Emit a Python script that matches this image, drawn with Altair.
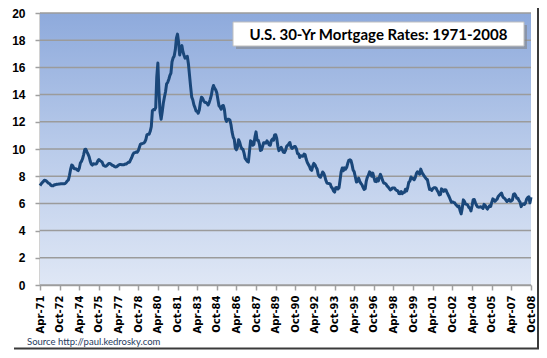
import altair as alt
import pandas as pd

# Monthly 30-yr mortgage rates (%)
r1971 = [7.31, 7.43, 7.53, 7.60, 7.70, 7.69, 7.63, 7.55, 7.48]  # Apr-Dec
r1972 = [7.44, 7.32, 7.29, 7.29, 7.37, 7.37, 7.40, 7.40, 7.42, 7.43, 7.44, 7.44]
r1973 = [7.44, 7.44, 7.46, 7.54, 7.65, 7.73, 8.05, 8.50, 8.82, 8.77, 8.58, 8.54]
r1974 = [8.54, 8.46, 8.41, 8.58, 8.97, 9.09, 9.28, 9.59, 9.96, 9.98, 9.79, 9.62]
r1975 = [9.43, 9.10, 8.89, 8.82, 8.91, 8.89, 8.89, 8.94, 9.13, 9.22, 9.14, 9.10]
r1976 = [9.02, 8.81, 8.76, 8.73, 8.76, 8.85, 8.93, 8.94, 8.88, 8.81, 8.79, 8.72]
r1977 = [8.68, 8.69, 8.75, 8.82, 8.86, 8.86, 8.85, 8.85, 8.85, 8.89, 8.90, 8.96]
r1978 = [9.02, 9.03, 9.20, 9.36, 9.57, 9.71, 9.74, 9.78, 9.76, 9.86, 10.11, 10.35]
r1979 = [10.39, 10.41, 10.43, 10.50, 10.69, 11.04, 11.09, 11.09, 11.30, 11.64, 12.83, 12.90]
r1980 = [12.88, 13.04, 15.28, 16.32, 14.26, 12.71, 12.19, 12.74, 13.38, 13.81, 14.21, 14.79]
r1981 = [14.90, 15.13, 15.40, 15.58, 16.40, 16.70, 16.83, 17.29, 18.16, 18.45, 17.83, 16.92]
r1982 = [17.40, 17.60, 17.16, 16.89, 16.68, 16.70, 16.82, 16.27, 15.43, 14.61, 13.83, 13.62]
r1983 = [13.25, 13.04, 12.80, 12.78, 12.63, 12.87, 13.42, 13.81, 13.73, 13.54, 13.44, 13.42]
r1984 = [13.37, 13.23, 13.39, 13.65, 13.94, 14.42, 14.67, 14.47, 14.35, 14.13, 13.64, 13.18]
r1985 = [13.08, 12.92, 13.17, 13.20, 12.91, 12.22, 12.03, 12.19, 12.19, 12.14, 11.78, 11.26]
r1986 = [10.88, 10.71, 10.08, 9.94, 10.14, 10.68, 10.51, 10.20, 10.01, 9.98, 9.70, 9.31]
r1987 = [9.20, 9.08, 9.04, 9.83, 10.60, 10.54, 10.28, 10.33, 10.89, 11.26, 10.65, 10.65]
r1988 = [10.38, 9.89, 9.93, 10.20, 10.46, 10.46, 10.43, 10.60, 10.48, 10.30, 10.27, 10.61]
r1989 = [10.73, 10.65, 11.03, 11.05, 10.77, 10.20, 9.88, 9.99, 10.13, 9.95, 9.77, 9.74]
r1990 = [9.90, 10.20, 10.27, 10.37, 10.48, 10.16, 10.04, 10.10, 10.18, 10.18, 10.01, 9.67]
r1991 = [9.64, 9.37, 9.50, 9.49, 9.47, 9.62, 9.58, 9.24, 9.01, 8.86, 8.71, 8.50]
r1992 = [8.43, 8.76, 8.94, 8.85, 8.67, 8.51, 8.13, 7.98, 7.92, 8.09, 8.31, 8.22]
r1993 = [7.99, 7.68, 7.50, 7.47, 7.47, 7.42, 7.21, 7.11, 6.92, 6.83, 7.16, 7.17]
r1994 = [7.06, 7.15, 7.68, 8.32, 8.60, 8.40, 8.61, 8.51, 8.64, 8.93, 9.17, 9.20]
r1995 = [9.15, 8.83, 8.46, 8.32, 7.96, 7.57, 7.61, 7.86, 7.64, 7.48, 7.38, 7.20]
r1996 = [7.03, 7.08, 7.62, 7.93, 8.07, 8.32, 8.25, 8.00, 8.23, 7.92, 7.62, 7.60]
r1997 = [7.82, 7.65, 7.90, 8.14, 7.94, 7.69, 7.50, 7.48, 7.43, 7.29, 7.21, 7.10]
r1998 = [6.99, 7.04, 7.13, 7.14, 7.14, 7.00, 6.95, 6.92, 6.72, 6.71, 6.87, 6.72]
r1999 = [6.79, 6.81, 7.04, 6.92, 7.15, 7.55, 7.63, 7.94, 7.82, 7.85, 7.74, 7.91]
r2000 = [8.21, 8.33, 8.24, 8.15, 8.52, 8.29, 8.15, 8.03, 7.91, 7.80, 7.75, 7.38]
r2001 = [7.03, 7.05, 6.95, 7.08, 7.15, 7.16, 7.13, 6.95, 6.82, 6.62, 6.66, 7.07]
r2002 = [7.00, 6.89, 7.01, 6.99, 6.81, 6.65, 6.49, 6.29, 6.09, 6.11, 6.07, 6.05]
r2003 = [5.92, 5.84, 5.75, 5.81, 5.48, 5.23, 5.63, 6.26, 6.15, 5.95, 5.93, 5.88]
r2004 = [5.71, 5.64, 5.45, 5.83, 6.27, 6.29, 6.06, 5.87, 5.75, 5.72, 5.73, 5.75]
r2005 = [5.71, 5.63, 5.93, 5.86, 5.72, 5.58, 5.70, 5.82, 5.77, 6.07, 6.33, 6.27]
r2006 = [6.15, 6.25, 6.32, 6.51, 6.60, 6.68, 6.76, 6.52, 6.40, 6.36, 6.24, 6.14]
r2007 = [6.22, 6.29, 6.16, 6.18, 6.26, 6.66, 6.70, 6.57, 6.38, 6.38, 6.21, 6.10]
r2008 = [5.76, 5.92, 5.97, 5.92, 6.04, 6.32, 6.43, 6.48, 6.04, 6.45]  # Jan-Oct

series = [r1971, r1972, r1973, r1974, r1975, r1976, r1977, r1978, r1979, r1980,
          r1981, r1982, r1983, r1984, r1985, r1986, r1987, r1988, r1989, r1990,
          r1991, r1992, r1993, r1994, r1995, r1996, r1997, r1998, r1999, r2000,
          r2001, r2002, r2003, r2004, r2005, r2006, r2007, r2008]

x_tick_labels = ["Apr-71", "Oct-72", "Apr-74", "Oct-75", "Apr-77", "Oct-78", "Apr-80",
                 "Oct-81", "Apr-83", "Oct-84", "Apr-86", "Oct-87", "Apr-89", "Oct-90",
                 "Apr-92", "Oct-93", "Apr-95", "Oct-96", "Apr-98", "Oct-99", "Apr-01",
                 "Oct-02", "Apr-04", "Oct-05", "Apr-07", "Oct-08"]
y_ticks = [0, 2, 4, 6, 8, 10, 12, 14, 16, 18, 20]

title_text = "U.S. 30-Yr Mortgage Rates: 1971-2008"
source_text = "Source http://paul.kedrosky.com"

dates, vals = [], []
for i, arr in enumerate(series):
    year = 1971 + i
    start = 4 if year == 1971 else 1
    for j, v in enumerate(arr):
        dates.append(f"{year}-{start + j:02d}-01")
        vals.append(v)
df = pd.DataFrame({"date": dates, "rate": vals})

tick_dt = [pd.to_datetime(t, format="%b-%y") for t in x_tick_labels]
tick_values = [alt.DateTime(year=d.year, month=d.month, date=1, utc=True) for d in tick_dt]

W, H = 491, 272
one = alt.Data(values=[{}])

x_scale = alt.Scale(type="utc",
                    domain=[tick_values[0], tick_values[-1]])
y_scale = alt.Scale(domain=[0, 20], nice=False)

y_axis = alt.Axis(values=y_ticks, grid=False, title=None,
                  labelFont="Liberation Sans", labelFontWeight="bold",
                  labelFontSize=12, labelColor="#000000", labelPadding=10,
                  tickSize=5, tickColor="#a0a0a0", tickWidth=1.5,
                  domainColor="#a6a6a6", domainWidth=2)

grad = alt.LinearGradient(
    gradient="linear",
    stops=[alt.GradientStop(color="#8eaadc", offset=0),
           alt.GradientStop(color="#b9cbea", offset=0.5),
           alt.GradientStop(color="#dfe7f5", offset=1)],
    x1=0, x2=0, y1=0, y2=1)

bg = alt.Chart(one).mark_rect(color=grad).encode(
    x=alt.value(0), x2=alt.value(W), y=alt.value(0), y2=alt.value(H))

grid = alt.Chart(pd.DataFrame({"v": y_ticks})).mark_rule(
    color="#9b9b9b", strokeWidth=1.5).encode(
    y=alt.Y("v:Q", scale=y_scale, axis=y_axis))

line = alt.Chart(df).mark_line(color="#1a477a", strokeWidth=3, strokeJoin="round").encode(
    x=alt.X("date:T", scale=x_scale,
            axis=alt.Axis(values=tick_values, labelExpr="utcFormat(datum.value, '%b-%y')",
                          labelAngle=-90, labelFont="DejaVu Sans", labelFontWeight="bold",
                          labelFontSize=10, labelColor="#000000", labelPadding=5,
                          tickSize=5, tickColor="#a0a0a0", tickWidth=1.5,
                          domainColor="#a0a0a0", domainWidth=1.5, grid=False,
                          title=None, labelOverlap=False, labelBound=False,
                          labelFlush=False)),
    y=alt.Y("rate:Q", scale=y_scale, axis=y_axis))

shadow = alt.Chart(one).mark_rect(color="#7f7f7f", opacity=0.55).encode(
    x=alt.value(196), x2=alt.value(487), y=alt.value(12), y2=alt.value(36))
box = alt.Chart(one).mark_rect(color="#ffffff", stroke="#bfbfbf", strokeWidth=1).encode(
    x=alt.value(193), x2=alt.value(484), y=alt.value(9), y2=alt.value(33))
title = alt.Chart(one).mark_text(text=title_text, font="Lato", fontSize=15,
                                 fontWeight="bold", color="#000000",
                                 align="center", baseline="middle").encode(
    x=alt.value(338.5), y=alt.value(21.5))

source = alt.Chart(one).mark_text(text=source_text, font="Lato", fontSize=9.5,
                                  color="#1f3b60", align="left", baseline="alphabetic").encode(
    x=alt.value(-13), y=alt.value(332))

frame_b = alt.Chart(one).mark_rule(color="#3a3a3a", strokeWidth=2).encode(
    x=alt.value(-26), x2=alt.value(499), y=alt.value(335.5))
frame_r = alt.Chart(one).mark_rule(color="#3a3a3a", strokeWidth=2).encode(
    x=alt.value(498), y=alt.value(-9), y2=alt.value(336))

chart = alt.layer(bg, grid, line, shadow, box, title, source, frame_b, frame_r).properties(
    width=W, height=H,
    autosize=alt.AutoSizeParams(type="none"),
    padding={"left": 32, "top": 5, "right": 8, "bottom": 65},
    background="#ffffff",
).configure_view(stroke=None)

chart.save("out.html", embed_options={"renderer": "svg", "actions": False})
